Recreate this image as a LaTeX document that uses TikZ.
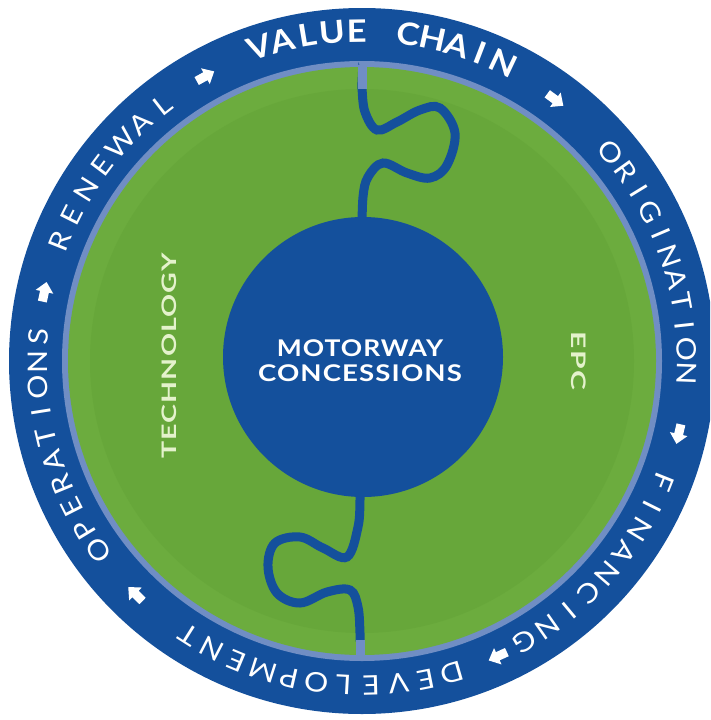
\documentclass[tikz,border=0pt]{standalone}
\usepackage{fontspec}
\setmainfont{Lato}
\newfontfamily\ringfont{Lato}
\newfontfamily\hubfont[LetterSpace=4]{Lato}
\definecolor{dblue}{RGB}{20,80,156}
\definecolor{lblue}{RGB}{112,142,196}
\definecolor{grn}{RGB}{108,172,62}
\definecolor{grnin}{RGB}{103,167,58}
\definecolor{pale}{RGB}{228,242,204}
\newdimen\rwsum
\newdimen\rwtmp
\newcount\rwn
% #1 font, #2 letter list, #3 centre angle, #4 baseline radius, #5 angular span, #6 letter width scale
\newcommand\ringword[6]{%
  \global\rwsum=0pt \global\rwn=0
  \foreach \ch in {#2}{\settowidth{\rwtmp}{#1\scalebox{#6}[1]{\ch}}\global\advance\rwsum by \rwtmp\global\advance\rwn by 1 }%
  \pgfmathsetmacro\rwtrack{(#5*pi/180*#4 - \rwsum)/(\rwn-1)}%
  \pgfmathsetmacro\rwcur{#3 + #5/2}%
  \global\let\rwcurg\rwcur
  \foreach \ch in {#2}{%
    \settowidth{\rwtmp}{#1\scalebox{#6}[1]{\ch}}%
    \pgfmathsetmacro\rwmid{\rwcurg - (\rwtmp/2)*180/(pi*#4)}%
    \node[ringletter, font={#1}, rotate=\rwmid-90] at (\rwmid:#4) {\scalebox{#6}[1]{\ch}};
    \pgfmathsetmacro\rwnext{\rwcurg - (\rwtmp+\rwtrack)*180/(pi*#4)}%
    \global\let\rwcurg\rwnext
  }%
}
\tikzset{
  ringletter/.style={text=white, inner sep=0pt, anchor=base},
  wiggle/.style={draw=dblue, line width=9pt},
  endcap/.style={draw=lblue, line width=9pt},
  sidetext/.style={text=pale, font=\hubfont\bfseries\fontsize{20pt}{20pt}\selectfont, inner sep=0pt},
  hubtext/.style={text=white, font=\hubfont\bfseries\fontsize{23pt}{25pt}\selectfont, align=center, inner sep=0pt},
  flow/.style={fill=white}
}
\begin{document}
\begin{tikzpicture}[x=1pt,y=1pt]
\useasboundingbox (0,0) rectangle (710,-720);
\clip (0,0) rectangle (710,-720);
\begin{scope}[shift={(362,-361)}]
  \fill[dblue] (0,0) circle[radius=353pt];
  \fill[lblue] (0,0) circle[radius=300pt];
  \fill[grn] (0,0) circle[radius=294pt];
  \fill[grnin] (0,0) circle[radius=272pt];
  % top wiggle
  \draw[wiggle] plot[smooth, tension=0.6] coordinates {(0,274) (0,272) (3,249) (15,231) (35,239) (58,251) (78,253) (93,228) (85,196) (68,183) (45,188) (21,198) (6,184) (1,164) (0,130)};
  % bottom wiggle
  \draw[wiggle] plot[smooth, tension=0.6] coordinates {(-2,-120) (-2,-139) (-4,-166) (-15,-196) (-39,-187) (-62,-176) (-87,-182) (-94,-206) (-85,-232) (-62,-242) (-35,-231) (-12,-229) (-4,-246) (-2,-272) (-2,-281)};
  \draw[endcap] (0,296) -- (0,272);
  \draw[endcap] (-2,-279) -- (-2,-297);
  \node[circle, fill=dblue, minimum size=280pt, inner sep=0pt] (hub) at (1,4) {};
  \node[hubtext] (hubname) at (-2,0) {\scalebox{1.15}[1]{MOTORWAY}\\\scalebox{1.2}[1]{CONCESSIONS}};
  \node[sidetext, rotate=90] (tech) at (-193,5) {\scalebox{1.43}[1]{TECHNOLOGY}};
  \node[sidetext, rotate=-90] (epc) at (217,0) {\scalebox{1.5}[1]{EPC}};
  % ring labels
  \ringword{\ringfont\bfseries\fontsize{31pt}{31pt}\selectfont}{V,A,L,U,E,\hspace{2pt},C,H,A,I,N}{86.4}{319}{43.5}{1.12}
  \ringword{\ringfont\fontsize{27pt}{27pt}\selectfont}{O,R,I,G,I,N,A,T,I,O,N}{18.9}{315}{42}{1.12}
  \ringword{\ringfont\fontsize{27pt}{27pt}\selectfont}{F,I,N,A,N,C,I,N,G}{-40.8}{315}{38}{1.12}
  \ringword{\ringfont\fontsize{27pt}{27pt}\selectfont}{D,E,V,E,L,O,P,M,E,N,T}{-98.1}{315}{48.5}{1.12}
  \ringword{\ringfont\fontsize{27pt}{27pt}\selectfont}{O,P,E,R,A,T,I,O,N,S}{195.7}{315}{40}{1.12}
  \ringword{\ringfont\fontsize{27pt}{27pt}\selectfont}{R,E,N,E,W,A,L}{143.1}{315}{30.5}{1.12}
  % arrows
  \foreach \a in {118.8,53.5,-13,-65.3,-134.2,167.7}
    \fill[flow, shift={(\a:325)}, rotate=\a-90] (-10,-4.5)--(0,-4.5)--(0,-9)--(10,0)--(0,9)--(0,4.5)--(-10,4.5)--cycle;
\end{scope}
\end{tikzpicture}
\end{document}
